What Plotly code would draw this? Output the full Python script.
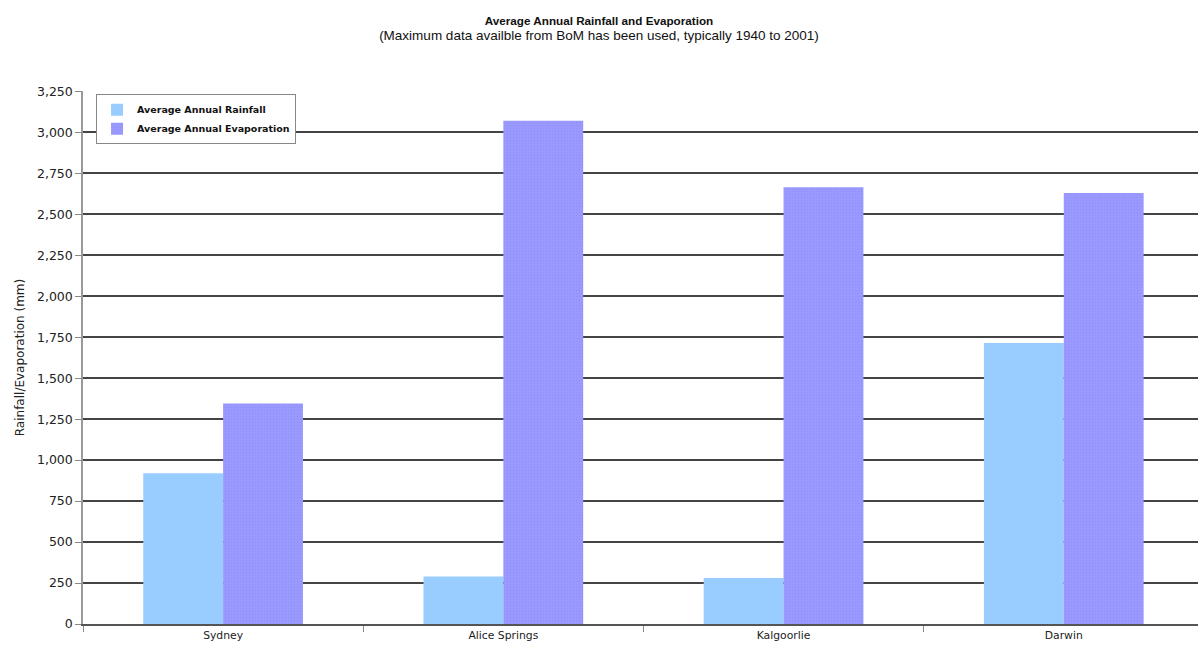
import plotly.graph_objects as go

# Average annual rainfall and evaporation per city (mm)
cities = ["Sydney", "Alice Springs", "Kalgoorlie", "Darwin"]
rainfall = [920, 290, 280, 1715]
evaporation = [1345, 3070, 2665, 2630]

y_ticks = list(range(0, 3251, 250))
y_tick_labels = [f"{v:,}" for v in y_ticks]

sans = "DejaVu Sans, Verdana, sans-serif"

fig = go.Figure()
fig.add_trace(go.Bar(
    name="Average Annual Rainfall",
    x=cities, y=rainfall,
    marker=dict(color="#99ccff", line=dict(width=0)),
))
fig.add_trace(go.Bar(
    name="Average Annual Evaporation",
    x=cities, y=evaporation,
    marker=dict(
        color="#9999ff", line=dict(width=0),
        pattern=dict(shape=".", size=3, solidity=0.2,
                     fgcolor="#8585ee", bgcolor="#9999ff"),
    ),
))

fig.update_layout(
    width=1198, height=651,
    margin=dict(l=83, r=0, t=91, b=27),
    paper_bgcolor="white", plot_bgcolor="white",
    barmode="group", bargap=0.43, bargroupgap=0,
    title=dict(
        text="<b>Average Annual Rainfall and Evaporation</b><br>"
             "<span style='font-size:13.5px'>(Maximum data availble from BoM has been used, "
             "typically 1940 to 2001)</span>",
        x=0.5, xanchor="center", y=0.962, yanchor="top",
        font=dict(family="Liberation Sans, Arial, sans-serif", size=11.7, color="#111"),
    ),
    showlegend=True,
    legend=dict(
        x=0.0117, y=0.994, xanchor="left", yanchor="top",
        bgcolor="white", bordercolor="#888", borderwidth=1,
        font=dict(family=sans, size=9.5, color="#111", weight="bold"),
        itemwidth=30, tracegroupgap=0,
    ),
    font=dict(family=sans),
)

fig.update_xaxes(
    range=[-0.5, 3.479],
    showgrid=False,
    showline=True, linecolor="#555", linewidth=1.5,
    ticks="outside", tickson="boundaries", ticklen=6, tickcolor="#888",
    tickfont=dict(family=sans, size=10.8, color="#222"),
)
fig.update_yaxes(
    range=[0, 3252],
    tickvals=y_ticks, ticktext=y_tick_labels,
    showgrid=True, gridcolor="#444", gridwidth=1.6,
    showline=True, linecolor="#999", linewidth=1.5,
    zeroline=False,
    ticks="outside", ticklen=6, tickcolor="#888",
    tickfont=dict(family=sans, size=12.5, color="#222"),
    title=dict(text="Rainfall/Evaporation (mm)", standoff=10,
               font=dict(family=sans, size=12, color="#222")),
)

fig.write_html("out.html")
